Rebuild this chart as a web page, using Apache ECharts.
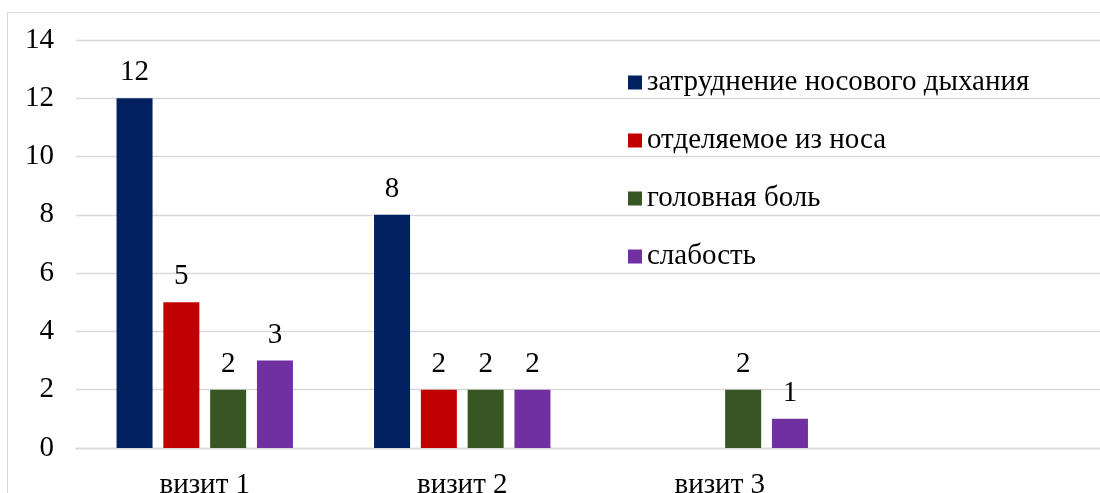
<!DOCTYPE html>
<html>
<head>
<meta charset="UTF-8">
<title>ECharts</title>
<script src="https://cdn.jsdelivr.net/npm/echarts@6/dist/echarts.min.js"></script>
</head>
<body style="margin:0">
<div id="main" style="width:1100px;height:493px"></div>
<script>
// categories (4th slot is empty, like the source chart)
var visits = ['визит 1', 'визит 2', 'визит 3', ''];
var seriesNames = ['затруднение носового дыхания', 'отделяемое из носа', 'головная боль', 'слабость'];
var nasal = [12, 8, null, null];
var discharge = [5, 2, null, null];
var headache = [2, 2, 2, null];
var weakness = [3, 2, 1, null];
var colors = ['#002060', '#C00000', '#375623', '#7030A0'];

var myChart = echarts.init(document.getElementById('main'));
var font = 'Liberation Serif, Times New Roman, serif';
var allData = [nasal, discharge, headache, weakness];

var series = [];
for (var i = 0; i < allData.length; i++) {
    series.push({
        name: seriesNames[i],
        type: 'bar',
        data: allData[i],
        barWidth: 36,
        barGap: '30%',
        itemStyle: { color: colors[i] },
        label: {
            show: true,
            position: 'top',
            distance: 11,
            color: '#000',
            fontFamily: font,
            fontSize: 29
        }
    });
}

var option = {
    animation: false,
    backgroundColor: '#fff',
    color: colors,
    graphic: [{
        type: 'rect',
        shape: { x: 7.5, y: 12.5, width: 1200, height: 600 },
        style: { fill: 'none', stroke: '#d9d9d9', lineWidth: 1 },
        silent: true
    }],
    grid: { left: 76, right: -6, top: 40, bottom: 45, outerBoundsMode: 'none', containLabel: false },
    legend: {
        orient: 'vertical',
        left: 623,
        top: 63,
        itemWidth: 14,
        itemHeight: 14,
        itemGap: 29,
        icon: 'rect',
        textStyle: { fontFamily: font, fontSize: 29, color: '#000', lineHeight: 29 },
        data: seriesNames
    },
    xAxis: {
        type: 'category',
        data: visits,
        axisLine: { show: true, lineStyle: { color: '#d9d9d9', width: 1.3 } },
        axisTick: { show: false },
        axisLabel: { color: '#000', fontFamily: font, fontSize: 29, margin: 23 }
    },
    yAxis: {
        type: 'value',
        min: 0,
        max: 14,
        interval: 2,
        axisLine: { show: false },
        axisTick: { show: false },
        splitLine: { lineStyle: { color: '#d9d9d9', width: 1.3 } },
        axisLabel: { color: '#000', fontFamily: font, fontSize: 29, margin: 22 }
    },
    series: series
};

myChart.setOption(option);
</script>
</body>
</html>
